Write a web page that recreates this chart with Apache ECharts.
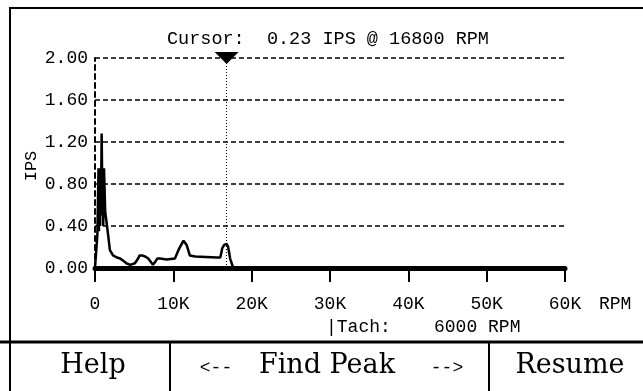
<!DOCTYPE html>
<html><head><meta charset="utf-8">
<script src="https://cdn.jsdelivr.net/npm/echarts@6/dist/echarts.min.js"></script>
<style>html,body{margin:0;padding:0;background:#fff}#c{width:643px;height:391px}</style>
</head><body><div id="c"></div>
<script>
var rpm = [0, 200, 300, 350, 450, 500, 550, 650, 700, 750, 850, 950, 1000, 1050, 1150, 1300, 1450, 1700, 1900, 2300, 2800, 3200, 3600, 4000, 4500, 5100, 5500, 5700, 6000, 6400, 6800, 7000, 7400, 7700, 7950, 8300, 9150, 10200, 10650, 11000, 11300, 11700, 12100, 12800, 15550, 16000, 16250, 16500, 16800, 17000, 17250, 17650, 60000];
var ips = [0, 0, 0.31, 0.30, 0.95, 0.35, 0.92, 0.40, 0.95, 0.50, 1.28, 0.60, 0.94, 0.40, 0.95, 0.54, 0.45, 0.30, 0.17, 0.12, 0.10, 0.09, 0.07, 0.045, 0.03, 0.045, 0.09, 0.12, 0.12, 0.11, 0.09, 0.08, 0.03, 0.06, 0.09, 0.09, 0.08, 0.09, 0.17, 0.22, 0.26, 0.22, 0.12, 0.11, 0.10, 0.10, 0.19, 0.22, 0.23, 0.20, 0.09, 0, 0];
var cursorRpm = 16800, cursorIps = 0.23;
var tachRpm = 6000;
var buttons = ['Help', 'Find Peak', 'Resume'];

var mono = '"Liberation Mono", "DejaVu Sans Mono", monospace';
var serif = '"DejaVu Serif", "Liberation Serif", serif';
var chart = echarts.init(document.getElementById('c'));
var data = rpm.map(function (r, i) { return [r, ips[i]]; });
chart.setOption({
  animation: false,
  backgroundColor: '#fff',
  grid: { left: 95, right: 78, top: 58, bottom: 123 },
  xAxis: {
    type: 'value', min: 0, max: 60000, interval: 10000,
    axisLine: { show: true, lineStyle: { color: '#000', width: 5 } },
    axisTick: { show: true, length: 14, lineStyle: { color: '#000', width: 2 } },
    axisLabel: { color: '#000', fontFamily: mono, fontSize: 18, margin: 27,
      formatter: function (v) { return v === 0 ? '0' : (v / 1000) + 'K'; } },
    splitLine: { show: false }
  },
  yAxis: {
    type: 'value', min: 0, max: 2, interval: 0.4,
    axisLine: { show: true, lineStyle: { color: '#000', width: 2, type: [5, 4] } },
    axisTick: { show: false },
    axisLabel: { color: '#000', fontFamily: mono, fontSize: 18, margin: 7,
      formatter: function (v) { return v.toFixed(2); } },
    splitLine: { show: true, lineStyle: { color: '#000', width: 1.5, type: [5, 3] } }
  },
  series: [{
    type: 'line', data: data, showSymbol: false, symbol: 'none',
    lineStyle: { color: '#000', width: 2.5 },
    markLine: {
      silent: true, symbol: ['none', 'none'], label: { show: false },
      lineStyle: { color: '#000', width: 1, type: [1, 2] },
      data: [{ xAxis: cursorRpm }]
    },
    markPoint: {
      silent: true, symbol: 'triangle', symbolRotate: 180, symbolSize: [24, 12],
      itemStyle: { color: '#000' }, label: { show: false },
      data: [{ coord: [cursorRpm, 2] }]
    }
  }],
  graphic: [
    { type: 'rect', shape: { x: 10, y: 8, width: 700, height: 500 }, style: { fill: 'none', stroke: '#000', lineWidth: 2 } },
    { type: 'line', shape: { x1: 0, y1: 342, x2: 643, y2: 342 }, style: { stroke: '#000', lineWidth: 3 } },
    { type: 'line', shape: { x1: 170, y1: 342, x2: 170, y2: 391 }, style: { stroke: '#000', lineWidth: 2 } },
    { type: 'line', shape: { x1: 489, y1: 342, x2: 489, y2: 391 }, style: { stroke: '#000', lineWidth: 2 } },
    { type: 'text', left: 167, top: 30, style: { text: 'Cursor:  ' + cursorIps.toFixed(2) + ' IPS @ ' + cursorRpm + ' RPM', font: '18.5px ' + mono, fill: '#000' } },
    { type: 'text', left: 599, top: 295, style: { text: 'RPM', font: '18px ' + mono, fill: '#000' } },
    { type: 'text', left: 326, top: 318, style: { text: '|Tach:    ' + tachRpm + ' RPM', font: '18px ' + mono, fill: '#000' } },
    { type: 'text', x: 31, y: 166, rotation: Math.PI / 2, style: { text: 'IPS', font: '17px ' + mono, fill: '#000', align: 'center', verticalAlign: 'middle' } },
    { type: 'text', x: 93, y: 366, style: { text: buttons[0], font: '27px ' + serif, fill: '#000', align: 'center', verticalAlign: 'middle' } },
    { type: 'text', x: 327, y: 366, style: { text: buttons[1], font: '27px ' + serif, fill: '#000', align: 'center', verticalAlign: 'middle' } },
    { type: 'text', x: 216, y: 368, style: { text: '<--', font: '18px ' + mono, fill: '#000', align: 'center', verticalAlign: 'middle' } },
    { type: 'text', x: 447, y: 368, style: { text: '-->', font: '18px ' + mono, fill: '#000', align: 'center', verticalAlign: 'middle' } },
    { type: 'text', x: 570, y: 366, style: { text: buttons[2], font: '27px ' + serif, fill: '#000', align: 'center', verticalAlign: 'middle' } }
  ]
});
</script></body></html>
